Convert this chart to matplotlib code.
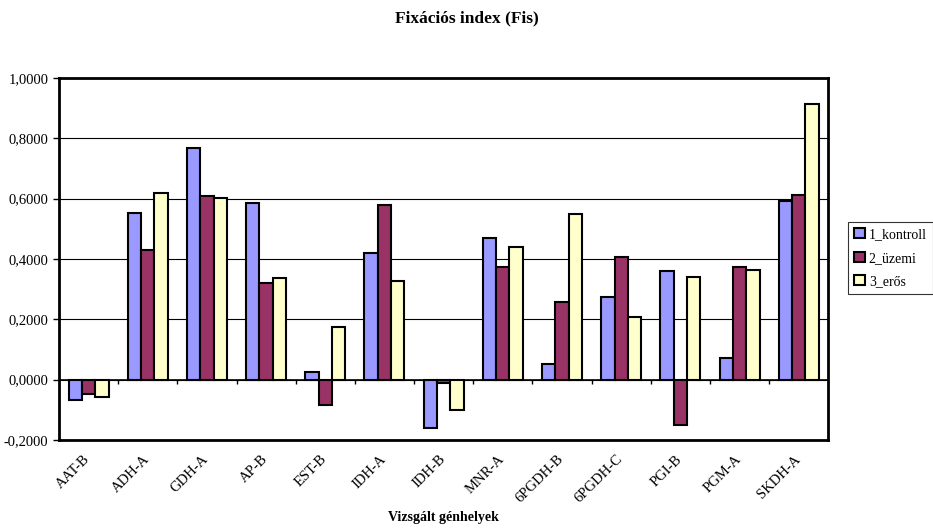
import numpy as np
import matplotlib
matplotlib.use("Agg")
from matplotlib import pyplot as plt
from matplotlib import transforms
from matplotlib.ticker import FuncFormatter, MultipleLocator

plt.rcParams['font.family'] = ['Liberation Serif', 'DejaVu Serif']

loci = ['AAT-B', 'ADH-A', 'GDH-A', 'AP-B', 'EST-B', 'IDH-A', 'IDH-B', 'MNR-A',
        '6PGDH-B', '6PGDH-C', 'PGI-B', 'PGM-A', 'SKDH-A']
kontroll = [-0.066, 0.552, 0.768, 0.585, 0.026, 0.419, -0.159, 0.469,
            0.053, 0.275, 0.360, 0.073, 0.593]
uzemi = [-0.047, 0.430, 0.608, 0.320, -0.084, 0.578, -0.011, 0.373,
         0.257, 0.408, -0.150, 0.374, 0.611]
eros = [-0.058, 0.619, 0.602, 0.337, 0.173, 0.328, -0.102, 0.439,
        0.549, 0.208, 0.339, 0.363, 0.915]

series = [('1_kontroll', kontroll, '#9999FF'),
          ('2_üzemi', uzemi, '#993366'),
          ('3_erős', eros, '#FFFFCC')]

fig = plt.figure(figsize=(9.33, 5.31), dpi=100)
ax = fig.add_axes([0.0632, 0.1714, 0.8246, 0.6817])

x = np.arange(len(loci))
w = 0.225
for i, (name, vals, col) in enumerate(series):
    ax.bar(x + (i - 1) * w, vals, width=w, color=col, edgecolor='black',
           linewidth=1.5, label=name, zorder=3)

ax.set_xlim(-0.5, len(loci) - 0.5)
ax.set_ylim(-0.2, 1.0)
ax.yaxis.set_major_locator(MultipleLocator(0.2))
ax.yaxis.set_major_formatter(FuncFormatter(lambda v, p: ('%.4f' % v).replace('.', ',')))
ax.grid(axis='y', color='black', linewidth=0.8, zorder=0)
ax.axhline(0, color='black', linewidth=1.2, zorder=4)
# category separator ticks on the zero line
ax.vlines(x[:-1] + 0.5, -0.014, 0, color='black', linewidth=1, zorder=4)

for s in ax.spines.values():
    s.set_linewidth(2)
ax.tick_params(axis='y', labelsize=10.5, length=4, width=1, direction='out')
ax.set_xticks(x)
ax.set_xticklabels(loci, rotation=45, ha='right', va='top',
                   rotation_mode='anchor', fontsize=10.5)
ax.tick_params(axis='x', length=0, pad=9)
shift = transforms.ScaledTranslation(-5 / 100, 0, fig.dpi_scale_trans)
for lab in ax.get_xticklabels():
    lab.set_transform(lab.get_transform() + shift)

ax_mid = (0.0632 + 0.8246 / 2)
fig.text(ax_mid, 1 - 518 / 531, 'Vizsgált génhelyek', ha='center', va='center',
         fontsize=10, fontweight='bold')
fig.text(0.5, 0.966, 'Fixációs index (Fis)', ha='center', va='center',
         fontsize=12.5, fontweight='bold')

leg = fig.legend(loc='upper left', bbox_to_anchor=(848 / 933, 1 - 222 / 531),
                 fontsize=10, frameon=True, fancybox=False, edgecolor='black',
                 handlelength=0.75, handleheight=0.75, handletextpad=0.3,
                 borderpad=0.45, labelspacing=0.75, borderaxespad=0)
leg.get_frame().set_linewidth(0.8)

fig.savefig('out.png', dpi=100)
